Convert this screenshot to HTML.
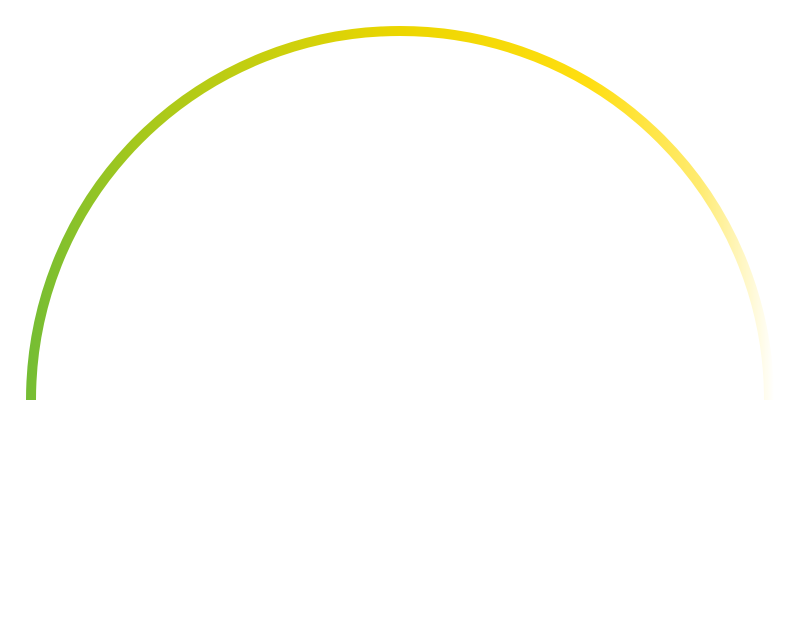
<!DOCTYPE html>
<html><head><style>html,body{margin:0;padding:0;background:#fff;width:800px;height:618px;overflow:hidden}</style></head>
<body>
<svg width="800" height="618" viewBox="0 0 800 618" xmlns="http://www.w3.org/2000/svg">
<defs>
<linearGradient id="g" x1="26" y1="0" x2="774" y2="0" gradientUnits="userSpaceOnUse">
<stop offset="0" stop-color="#74bd34"/>
<stop offset="0.15" stop-color="#a5c81c"/>
<stop offset="0.5" stop-color="#ecd600"/>
<stop offset="0.75" stop-color="#ffde10"/>
<stop offset="0.9" stop-color="#ffeb70"/>
<stop offset="1" stop-color="#ffffff"/>
</linearGradient>
</defs>
<path d="M31 400 A369 369 0 0 1 769 400" fill="none" stroke="url(#g)" stroke-width="10"/>
</svg>
</body></html>
